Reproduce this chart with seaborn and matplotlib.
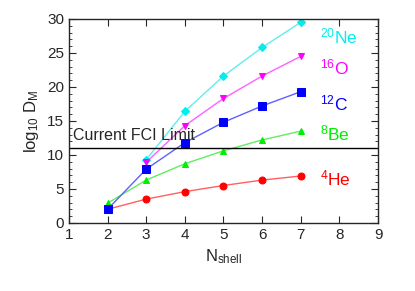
import pandas as pd
import seaborn as sns
import matplotlib.pyplot as plt
from matplotlib.ticker import MultipleLocator

# values
shells = [2, 3, 4, 5, 6, 7]
he4 = [2.0, 3.5, 4.6, 5.5, 6.3, 6.9]
be8 = [2.9, 6.3, 8.7, 10.6, 12.2, 13.5]
c12 = [2.0, 7.9, 11.8, 14.8, 17.2, 19.3]
o16_shells = [3, 4, 5, 6, 7]
o16 = [8.9, 14.3, 18.3, 21.6, 24.5]
ne20_shells = [3, 4, 5, 6, 7]
ne20 = [9.3, 16.4, 21.6, 25.8, 29.5]
fci_limit = 11.0

labels = ['$^{4}$He', '$^{8}$Be', '$^{12}$C', '$^{16}$O', '$^{20}$Ne']
label_y = [6.6, 13.2, 17.5, 22.8, 27.4]

sns.set_style("ticks")
plt.rcParams['font.family'] = ['Liberation Sans', 'DejaVu Sans']
plt.rcParams['mathtext.fontset'] = 'custom'
plt.rcParams['mathtext.rm'] = 'Liberation Sans'
plt.rcParams['mathtext.it'] = 'Liberation Sans'

fig = plt.figure(figsize=(4.15, 2.91), dpi=100)
ax = fig.add_axes([0.166, 0.234, 0.745, 0.701])

series = [
    (shells, he4, '#ff0000', '#ff6060', 'o', 5),
    (shells, be8, '#00ee00', '#60ee60', '^', 5),
    (shells, c12, '#0000ff', '#6060ff', 's', 5.5),
    (o16_shells, o16, '#ff00ff', '#ff60ff', 'v', 5),
    (ne20_shells, ne20, '#00eeee', '#60eeee', 'D', 4),
]
# draw green first so blue square sits on top at x=2
order = [1, 0, 4, 3, 2]
for i in order:
    xs, ys, mc, lc, mk, ms = series[i]
    df = pd.DataFrame({'N': xs, 'D': ys})
    sns.lineplot(data=df, x='N', y='D', ax=ax, color=lc, lw=1.0,
                 marker=mk, markersize=ms, markerfacecolor=mc,
                 markeredgecolor=mc)

ax.axhline(fci_limit, color='black', lw=1.0)
ax.text(1.1, fci_limit + 0.8, 'Current FCI Limit', fontsize=11.5, ha='left', va='bottom')

text_colors = ['#ff0000', '#00ee00', '#0000ff', '#ff00ff', '#00eeee']
for lab, y, c in zip(labels, label_y, text_colors):
    ax.text(7.5, y, lab, color=c, fontsize=12.5, ha='left', va='center')

ax.set_xlim(1, 9)
ax.set_ylim(0, 30)
ax.xaxis.set_major_locator(MultipleLocator(1))
ax.yaxis.set_major_locator(MultipleLocator(5))
ax.yaxis.set_minor_locator(MultipleLocator(1))
ax.tick_params(which='both', direction='in', top=True, right=True, labelsize=11)
ax.tick_params(which='major', length=5)
ax.tick_params(which='minor', length=2.5)
for s in ax.spines.values():
    s.set_linewidth(1.0)

ax.set_xlabel('N$_{\\mathrm{shell}}$', fontsize=12)
ax.set_ylabel('log$_{10}$ D$_{\\mathrm{M}}$', fontsize=12)

plt.savefig('out.png', dpi=100)
plt.close()
